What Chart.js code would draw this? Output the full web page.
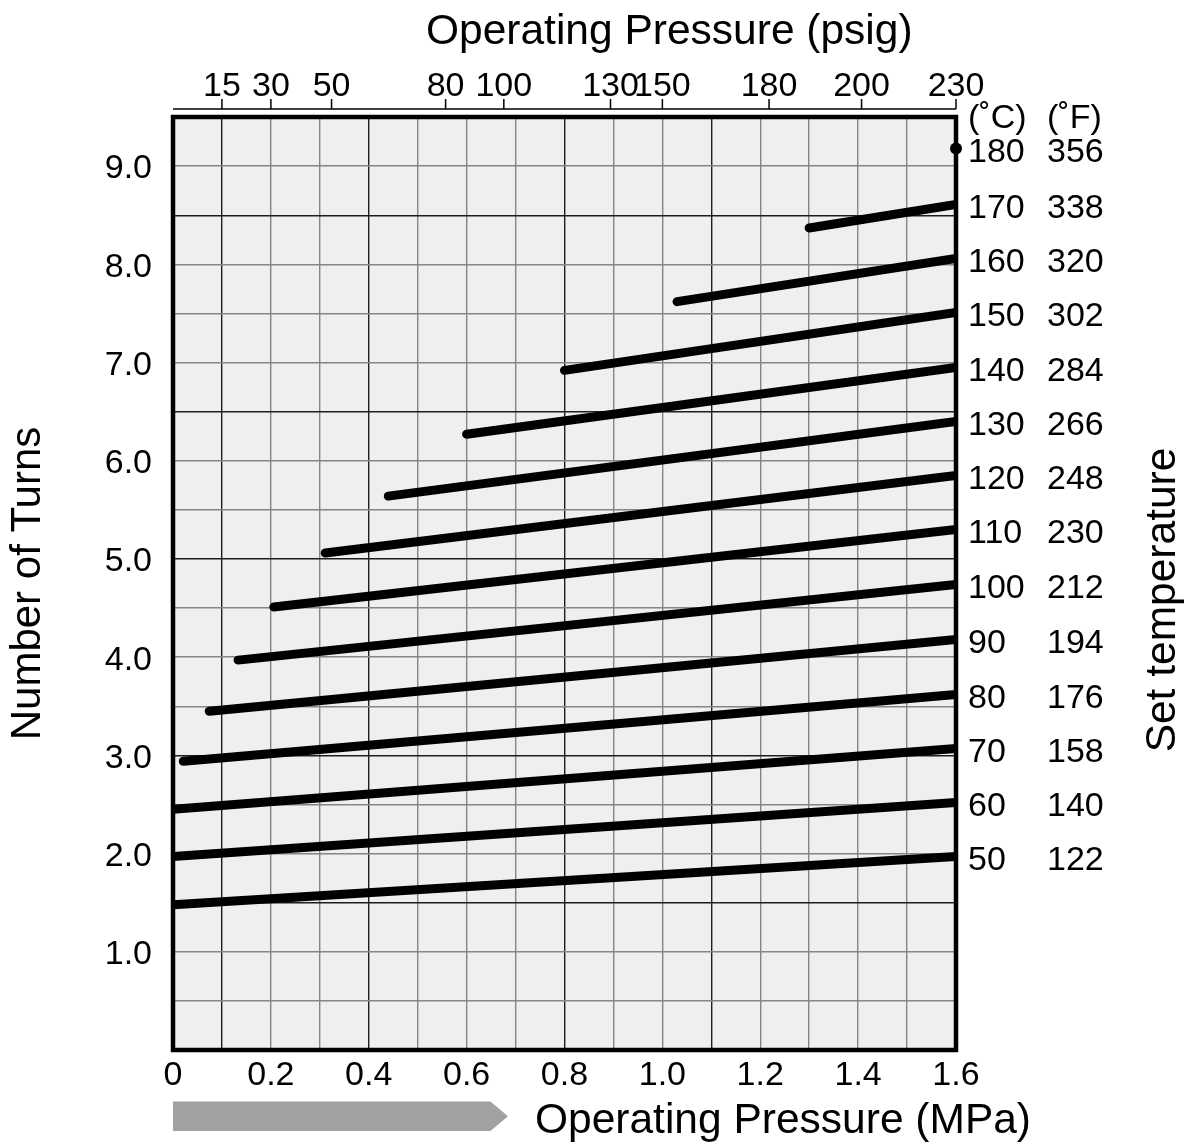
<!DOCTYPE html>
<html>
<head>
<meta charset="utf-8">
<script src="https://cdn.jsdelivr.net/npm/chart.js@4.4.1/dist/chart.umd.min.js"></script>
<style>
  html, body { margin: 0; padding: 0; background: #fff; }
  #wrap { width: 1194px; height: 1148px; }
</style>
</head>
<body>
<div id="wrap"><canvas id="chart" width="1194" height="1148"></canvas></div>
<script>
// set temperatures, one line each
const tempC = [50, 60, 70, 80, 90, 100, 110, 120, 130, 140, 150, 160, 170];
const tempF = [122, 140, 158, 176, 194, 212, 230, 248, 266, 284, 302, 320, 338];
// where each line starts (MPa, turns) and its value at 1.6 MPa
const startMPa = [0, 0, 0, 0.021, 0.074, 0.133, 0.206, 0.311, 0.44, 0.60, 0.80, 1.03, 1.30];
const startTurns = [1.48, 1.97, 2.45, 2.94, 3.45, 3.97, 4.51, 5.06, 5.64, 6.27, 6.92, 7.62, 8.37];
const endTurns = [1.97, 2.52, 3.07, 3.62, 4.18, 4.74, 5.30, 5.85, 6.40, 6.95, 7.51, 8.06, 8.61];
const endMPa = 1.6;
// 180 C is only a dot at the right edge
const dotC = 180, dotF = 356, dotTurns = 9.18;

// top psig axis: labels and where they sit on the MPa scale
const psigLabels = ['15', '30', '50', '80', '100', '130', '150', '180', '200', '230'];
const psigAt = [0.10, 0.20, 0.324, 0.557, 0.676, 0.894, 1.0, 1.218, 1.407, 1.6];

const labelC = tempC.concat([dotC]);
const labelF = tempF.concat([dotF]);
const labelAt = endTurns.concat([dotTurns]);

const FONT = "'Liberation Sans', Arial, sans-serif";
const darkX = [1, 4, 8, 11];      // tenths of MPa drawn darker in the scan
const darkY = [3, 6, 10, 13, 17]; // halves of a turn drawn darker

const datasets = tempC.map((t, i) => ({
  label: t + ' C',
  data: [{ x: startMPa[i], y: startTurns[i] }, { x: endMPa, y: endTurns[i] }],
  borderColor: '#000',
  borderWidth: 9,
  borderCapStyle: 'round',
  pointRadius: 0,
  clip: 0
}));
datasets.push({
  label: dotC + ' C',
  data: [{ x: endMPa, y: dotTurns }],
  showLine: false,
  pointRadius: 6,
  pointBackgroundColor: '#000',
  pointBorderWidth: 0,
  clip: false
});

function gridColor(ctx, dark) {
  const k = Math.round(ctx.tick.value * (dark === darkX ? 10 : 2));
  return dark.includes(k) ? '#1e1e1e' : '#858585';
}

const decor = {
  id: 'decor',
  beforeDraw(chart) {
    const { ctx, chartArea: a } = chart;
    ctx.save();
    ctx.fillStyle = '#efefef';
    ctx.fillRect(a.left, a.top, a.right - a.left, a.bottom - a.top);
    ctx.restore();
  },
  afterDatasetsDraw(chart) {
    const { ctx, chartArea: a } = chart;
    const x2 = chart.scales.x2;
    ctx.save();
    // plot frame
    ctx.strokeStyle = '#000';
    ctx.lineWidth = 4.5;
    ctx.strokeRect(a.left, a.top, a.right - a.left, a.bottom - a.top);
    // thin psig axis line a little above the frame
    const yLine = a.top - 8;
    ctx.lineWidth = 1.5;
    ctx.beginPath();
    ctx.moveTo(a.left, yLine);
    ctx.lineTo(a.right, yLine);
    psigAt.forEach(v => {
      const px = x2.getPixelForValue(v);
      ctx.moveTo(px, yLine);
      ctx.lineTo(px, yLine - 10);
    });
    ctx.stroke();
    ctx.restore();
  },
  afterDraw(chart) {
    const { ctx, chartArea: a } = chart;
    ctx.save();
    ctx.fillStyle = '#000';
    ctx.textBaseline = 'middle';
    ctx.textAlign = 'left';
    ctx.font = '42.5px ' + FONT;
    ctx.fillText('Operating Pressure (psig)', 426, 32);
    ctx.fillText('Operating Pressure (MPa)', 535, 1121);

    // column headers for the temperature labels
    ctx.font = '34px ' + FONT;
    ctx.fillText('(\u02DAC)', chart.scales.y2.left + 12, 119);
    ctx.fillText('(\u02DAF)', chart.scales.y3.left, 119);

    // grey arrow under the MPa axis
    ctx.fillStyle = '#a1a3a2';
    ctx.beginPath();
    ctx.moveTo(a.left, 1101.5);
    ctx.lineTo(490.5, 1101.5);
    ctx.lineTo(508, 1116.3);
    ctx.lineTo(490.5, 1131);
    ctx.lineTo(a.left, 1131);
    ctx.closePath();
    ctx.fill();

    // right title reads bottom to top
    ctx.fillStyle = '#000';
    ctx.font = '42.5px ' + FONT;
    ctx.translate(1163, 600);
    ctx.rotate(-Math.PI / 2);
    ctx.textAlign = 'center';
    ctx.fillText('Set temperature', 0, 0);
    ctx.restore();
  }
};

const tickFont = { family: FONT, size: 34 };

new Chart(document.getElementById('chart'), {
  type: 'line',
  data: { datasets },
  plugins: [decor],
  options: {
    responsive: false,
    animation: false,
    devicePixelRatio: 1,
    layout: { padding: 0 },
    plugins: { legend: { display: false }, tooltip: { enabled: false } },
    scales: {
      x: {
        type: 'linear', position: 'bottom', min: 0, max: 1.6,
        ticks: {
          stepSize: 0.1, autoSkip: false, maxRotation: 0, padding: 5,
          color: '#000', font: tickFont,
          callback: v => {
            const k = Math.round(v * 10);
            if (k % 2) return '';
            return k === 0 ? '0' : (k / 10).toFixed(1);
          }
        },
        grid: { drawTicks: false, lineWidth: 1.4, color: c => gridColor(c, darkX) },
        border: { display: false },
        afterFit: s => { s.height = 98; }
      },
      x2: {
        type: 'linear', position: 'top', min: 0, max: 1.6,
        afterBuildTicks: s => { s.ticks = psigAt.map(v => ({ value: v })); },
        ticks: {
          autoSkip: false, maxRotation: 0, padding: 10,
          color: '#000', font: tickFont,
          callback: (v, i) => psigLabels[i]
        },
        grid: { display: false, drawTicks: false },
        border: { display: false },
        afterFit: s => { s.height = 117; }
      },
      y: {
        type: 'linear', position: 'left', min: 0, max: 9.5,
        ticks: {
          stepSize: 0.5, autoSkip: false, padding: 21, labelOffset: 3,
          color: '#000', font: tickFont,
          callback: v => {
            const k = Math.round(v * 2);
            return (k % 2 || k === 0) ? '' : (k / 2).toFixed(1);
          }
        },
        grid: { drawTicks: false, lineWidth: 1.4, color: c => gridColor(c, darkY) },
        border: { display: false },
        title: {
          display: true, text: 'Number of Turns', color: '#000',
          font: { family: FONT, size: 42 }, padding: { top: 3, bottom: 0 }
        },
        afterFit: s => { s.width = 173; }
      },
      y2: {
        type: 'linear', position: 'right', min: 0, max: 9.5, weight: 1,
        afterBuildTicks: s => { s.ticks = labelAt.map(v => ({ value: v })); },
        ticks: {
          autoSkip: false, padding: 12, crossAlign: 'near', labelOffset: 4,
          color: '#000', font: tickFont,
          callback: (v, i) => String(labelC[i])
        },
        grid: { display: false, drawTicks: false },
        border: { display: false },
        afterFit: s => { s.width = 91; }
      },
      y3: {
        type: 'linear', position: 'right', min: 0, max: 9.5, weight: 2,
        afterBuildTicks: s => { s.ticks = labelAt.map(v => ({ value: v })); },
        ticks: {
          autoSkip: false, padding: 0, crossAlign: 'near', labelOffset: 4,
          color: '#000', font: tickFont,
          callback: (v, i) => String(labelF[i])
        },
        grid: { display: false, drawTicks: false },
        border: { display: false },
        afterFit: s => { s.width = 147; }
      }
    }
  }
});
</script>
</body>
</html>
